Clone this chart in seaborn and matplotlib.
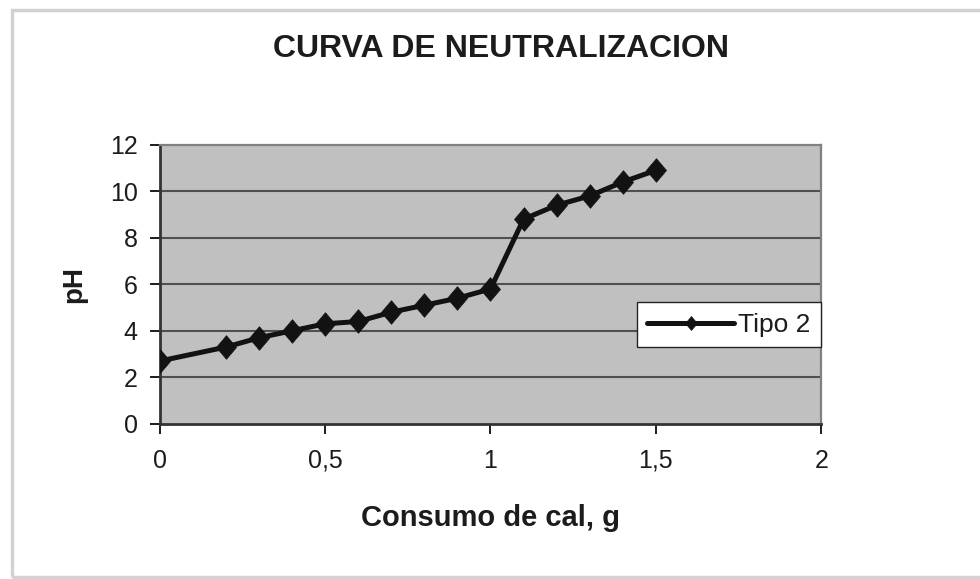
import matplotlib
matplotlib.use("Agg")
import matplotlib.pyplot as plt
import seaborn as sns
import pandas as pd
from matplotlib.patches import Rectangle

# Neutralization curve: lime consumption (g) vs pH
consumo = [0.0, 0.2, 0.3, 0.4, 0.5, 0.6, 0.7, 0.8, 0.9, 1.0, 1.1, 1.2, 1.3, 1.4, 1.5]
ph = [2.7, 3.3, 3.7, 4.0, 4.3, 4.4, 4.8, 5.1, 5.4, 5.8, 8.8, 9.4, 9.8, 10.4, 10.9]
serie = "Tipo 2"

x_ticks = [0, 0.5, 1, 1.5, 2]
x_labels = ["0", "0,5", "1", "1,5", "2"]
y_ticks = [0, 2, 4, 6, 8, 10, 12]

df = pd.DataFrame({"consumo": consumo, "ph": ph, "serie": serie})

sns.set_theme(style="white")
plt.rcParams["font.family"] = ["Liberation Sans", "DejaVu Sans"]

TXT = "#1c1c1c"
LINE = "#121212"

# slightly tall diamond marker
diamond = [(0, 1), (0.85, 0), (0, -1), (-0.85, 0), (0, 1)]

fig = plt.figure(figsize=(9.8, 5.79), dpi=100)
ax = fig.add_axes([0.163, 0.268, 0.675, 0.482])

# outer chart frame
fig.patches.append(Rectangle((0.0122, 0.0035), 1.2, 0.9795, transform=fig.transFigure,
                             fill=False, edgecolor="#d2d2d2", linewidth=2.5))

ax.set_facecolor("#c0c0c0")
for y in y_ticks[1:-1]:
    ax.axhline(y, color="#505050", linewidth=1.5, zorder=1)

sns.lineplot(data=df, x="consumo", y="ph", hue="serie", palette=[LINE],
             marker=diamond, markersize=17, markeredgecolor=LINE, markeredgewidth=0.5,
             linewidth=3.6, ax=ax, zorder=3)

ax.set_xlim(0, 2)
ax.set_ylim(0, 12)
ax.set_xticks(x_ticks)
ax.set_xticklabels(x_labels)
ax.set_yticks(y_ticks)
ax.tick_params(axis="both", labelsize=18, colors=TXT, length=7, width=1.4,
               direction="out", bottom=True, left=True)
ax.tick_params(axis="y", pad=9)
ax.tick_params(axis="x", pad=11)
for lbl in ax.get_xticklabels() + ax.get_yticklabels():
    lbl.set_color(TXT)

for side in ["top", "right"]:
    ax.spines[side].set_color("#808080")
    ax.spines[side].set_linewidth(1.6)
for side in ["left", "bottom"]:
    ax.spines[side].set_color("#333333")
    ax.spines[side].set_linewidth(2.0)

ax.set_xlabel("Consumo de cal, g", fontsize=21, fontweight="bold", color=TXT)
ax.xaxis.label.set_va("center")
ax.xaxis.set_label_coords(0.5, -0.337)
ax.set_ylabel("pH", fontsize=20, fontweight="bold", color=TXT)
ax.yaxis.label.set_va("center")
ax.yaxis.label.set_ha("center")
ax.yaxis.set_label_coords(-0.1286, 0.5)

fig.text(0.511, 0.915, "CURVA DE NEUTRALIZACION", ha="center", va="center",
         fontsize=23, fontweight="bold", color=TXT)

leg = ax.legend(loc="center right", bbox_to_anchor=(1.0, 0.355), frameon=True,
                fancybox=False, fontsize=19, handlelength=3.3, handletextpad=0.15,
                borderpad=0.4, borderaxespad=0.0, title=None)
leg.get_frame().set_edgecolor("#222222")
leg.get_frame().set_linewidth(1.0)
leg.get_frame().set_facecolor("white")
leg.get_frame().set_alpha(1.0)
for h in leg.legend_handles:
    h.set_markersize(10)
    h.set_linewidth(3.6)
for t in leg.get_texts():
    t.set_color(TXT)

fig.savefig("out.png", dpi=100)
